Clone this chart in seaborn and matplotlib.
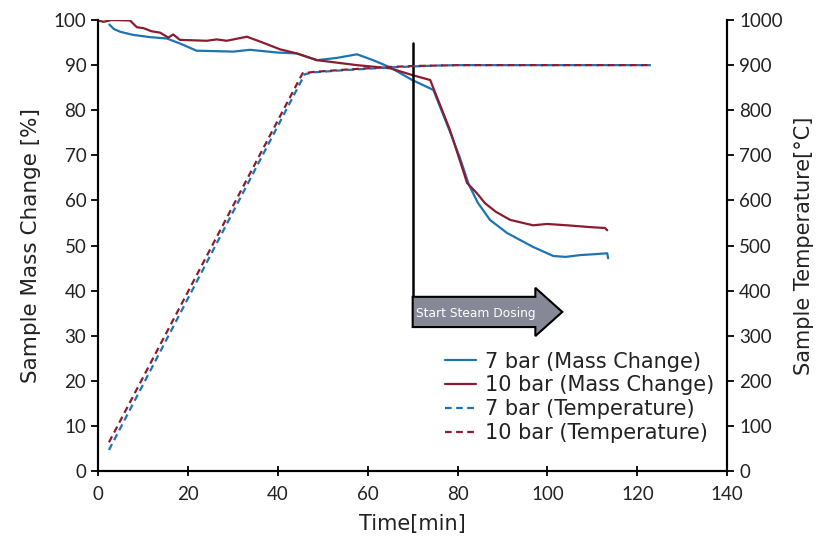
import matplotlib
matplotlib.use("Agg")
import matplotlib.pyplot as plt
import matplotlib.patches as mpatches
import seaborn as sns

# mass change curves (time in min, mass in %)
t_mass_7 = [2.5, 3.5, 4.9, 7.8, 11.6, 15.3, 18.2, 21.9, 26, 30.1, 33.8, 39.8, 44.2, 48.7, 53.1, 57.6, 61.2, 65,
            69.9, 74.6, 78, 80.5, 82.5, 84.5, 87.2, 91, 96.8, 101.3, 104, 107.3, 110.5, 113.3, 113.5]
mass_7 = [99, 98, 97.4, 96.7, 96.2, 95.9, 94.8, 93.2, 93.1, 93, 93.4, 92.8, 92.6, 91.1, 91.6, 92.4, 91.1, 89.5,
          86.7, 84.5, 76, 69.5, 63.5, 59.5, 55.7, 52.8, 49.7, 47.7, 47.5, 47.9, 48.1, 48.3, 47.2]
t_mass_10 = [0, 1.2, 3, 7.1, 8.6, 10.1, 11.9, 13.8, 15.6, 16.7, 18.2, 24.2, 26.4, 28.6, 33.1, 36.1, 40.5, 44.2,
             48.7, 57.6, 65, 69.9, 73.9, 78.3, 81.2, 82.1, 84.3, 86.1, 88.5, 91.7, 96.8, 99.9, 104.4, 109.5, 112.8,
             113.3]
mass_10 = [99.9, 99.6, 100, 99.9, 98.4, 98.2, 97.5, 97.2, 96.1, 96.8, 95.6, 95.4, 95.7, 95.4, 96.3, 95.2, 93.5,
           92.6, 91.1, 90, 89.3, 87.8, 86.7, 75.6, 66.7, 63.9, 61.6, 59.4, 57.5, 55.7, 54.5, 54.8, 54.5, 54.1, 53.9,
           53.4]

# sample temperature curves (time in min, temperature in C)
t_temp_7 = [2.4, 46, 48, 55, 60, 65, 70, 75, 80, 123]
temp_7 = [47, 880, 884, 889, 892, 895, 897, 899, 900, 900]
t_temp_10 = [2.4, 45.5, 48, 55, 60, 65, 70, 75, 80, 123]
temp_10 = [64, 882, 885, 890, 893, 896, 898, 899, 900, 900]

blue = "#1c74b3"
red = "#8a1c30"
txt = "#222222"

sns.set_style("ticks")
plt.rcParams["font.family"] = ["DejaVu Sans"]

fig = plt.figure(figsize=(8.18, 5.41), dpi=100)
ax = fig.add_axes([0.12, 0.129, 0.769, 0.834])
ax2 = ax.twinx()

sns.lineplot(x=t_mass_7, y=mass_7, ax=ax, color=blue, lw=1.6, label="7 bar (Mass Change)", legend=False)
sns.lineplot(x=t_mass_10, y=mass_10, ax=ax, color=red, lw=1.6, label="10 bar (Mass Change)", legend=False)
sns.lineplot(x=t_temp_7, y=temp_7, ax=ax2, color=blue, lw=1.6, label="7 bar (Temperature)", legend=False)
sns.lineplot(x=t_temp_10, y=temp_10, ax=ax2, color=red, lw=1.6, label="10 bar (Temperature)", legend=False)
ax2.lines[0].set_dashes((3, 2))
ax2.lines[1].set_dashes((3, 2))

ax.set_xlim(0, 140)
ax.set_ylim(0, 100)
ax2.set_ylim(0, 1000)
ax.set_xticks(range(0, 141, 20))
ax.set_yticks(range(0, 101, 10))
ax2.set_yticks(range(0, 1001, 100))

ax.set_xlabel("Time[min]", fontsize=15, labelpad=8, color=txt)
ax.set_ylabel("Sample Mass Change [%]", fontsize=15.5, labelpad=9, color=txt)
ax2.set_ylabel("Sample Temperature[°C]", fontsize=15, labelpad=8, color=txt)

for a in (ax, ax2):
    a.spines["top"].set_visible(False)
    for s in ("left", "right", "bottom"):
        a.spines[s].set_color("black")
        a.spines[s].set_linewidth(1.5)
    for lab in a.get_xticklabels() + a.get_yticklabels():
        lab.set_family("Lato")
ax.tick_params(axis="both", labelsize=13.5, width=1.3, length=5, colors="black", labelcolor=txt)
ax.tick_params(axis="x", direction="inout", length=7, pad=7)
ax2.tick_params(axis="y", labelsize=13.5, width=1.3, length=5, colors="black", labelcolor=txt)

# steam dosing marker
ax.plot([70, 70], [95, 35], color="black", lw=1.8)
arrow = mpatches.FancyArrow(70, 35.3, 33.3, 0, width=6.7, head_width=10.7, head_length=6,
                            length_includes_head=True, facecolor="#868897", edgecolor="black", lw=1.5, zorder=5)
ax.add_patch(arrow)
ax.text(70.8, 35.0, "Start Steam Dosing", color="white", fontsize=8.8, va="center", ha="left", zorder=6)

h1, l1 = ax.get_legend_handles_labels()
h2, l2 = ax2.get_legend_handles_labels()
leg = ax2.legend(h1 + h2, l1 + l2, loc="lower right", bbox_to_anchor=(1.0, 0.035), frameon=False, fontsize=15,
                 handlelength=1.5, handletextpad=0.45, labelspacing=0.18, borderaxespad=0.2)
for t in leg.get_texts():
    t.set_color(txt)

fig.savefig("out.png", dpi=100)
